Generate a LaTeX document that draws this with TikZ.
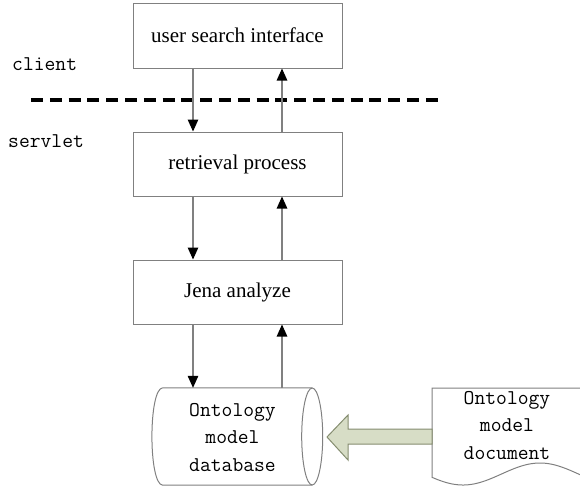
\documentclass[tikz,border=0pt]{standalone}
\usepackage{fontspec}
\setmainfont{Liberation Serif}
\usetikzlibrary{arrows.meta}
\definecolor{linegray}{HTML}{808080}
\definecolor{arrowfill}{HTML}{D7DDC6}
\definecolor{arrowdraw}{HTML}{858D70}
\begin{document}
\begin{tikzpicture}[x=1pt,y=-1pt,
  box/.style={draw=linegray, line width=1pt, minimum width=209pt, minimum height=64pt, inner sep=0pt, font=\fontsize{21}{25}\selectfont},
  flow/.style={draw=linegray, line width=1.2pt, -{Triangle[width=10.5pt,length=12pt,color=black]}},
  mono/.style={font=\ttfamily\fontsize{21}{27.5}\selectfont, align=center, inner sep=0pt},
  lbl/.style={font=\ttfamily\fontsize{21}{25}\selectfont, inner sep=0pt, anchor=base west},
  shapeline/.style={draw=linegray, line width=1pt},
  bigarrow/.style={fill=arrowfill, draw=arrowdraw, line width=1pt, line join=miter},
  divider/.style={line width=3.5pt, dash pattern=on 12pt off 6.8pt}]
\useasboundingbox (0,0) rectangle (580,488);
\clip (0,0) rectangle (580,488);

% boxes
\node[box, minimum height=65pt] (ui) at (237.5,35.5) {user search interface};
\node[box] (ret) at (237.5,164) {retrieval process};
\node[box] (jena) at (237.5,292) {Jena analyze};

% cylinder (database)
\node[minimum width=149pt, minimum height=97pt, inner sep=0pt] (db) at (237.5,436.5) {};
\draw[shapeline] (db.north east) -- (db.north west)
  .. controls (148.3,388) and (148.3,485) .. (db.south west) -- (db.south east);
\draw[shapeline] (db.east) ellipse [x radius=10.5, y radius=48.5];
\node[mono] (dbtext) at (232.5,437.5) {Ontology\\model\\database};

% document shape
\draw[shapeline] (600,388) -- (432,388) -- plot[domain=432:600, samples=90] (\x,{474+11*cos((\x-463)*2.33766)});
\node[mono] (doc) at (507,425.5) {Ontology\\model\\document};
\coordinate (docL) at (432,436.5);
\coordinate (dbR) at (327,437);

% big arrow from document to database
\draw[bigarrow] (dbR) -- ++(21,-22) -- ++(0,14) -- (docL |- 0,429) -- (docL |- 0,444) -- (348,444) -- (348,460) -- cycle;

% divider and labels
\coordinate (dl) at (31,100);
\coordinate (dr) at (438,100);
\draw[divider] (dl) -- (dr);
\node[lbl] (client) at (12,70) {client};
\node[lbl] (servlet) at (8,147) {servlet};

% flow arrows
\draw[flow] ([xshift=-44.5pt]ui.south) -- ([xshift=-44.5pt]ret.north);
\draw[flow] ([xshift=44.5pt]ret.north) -- ([xshift=44.5pt]ui.south);
\draw[flow] ([xshift=-44.5pt]ret.south) -- ([xshift=-44.5pt]jena.north);
\draw[flow] ([xshift=44.5pt]jena.north) -- ([xshift=44.5pt]ret.south);
\draw[flow] ([xshift=-44.5pt]jena.south) -- ([xshift=-44.5pt]db.north);
\draw[flow] ([xshift=44.5pt]db.north) -- ([xshift=44.5pt]jena.south);
\end{tikzpicture}
\end{document}
